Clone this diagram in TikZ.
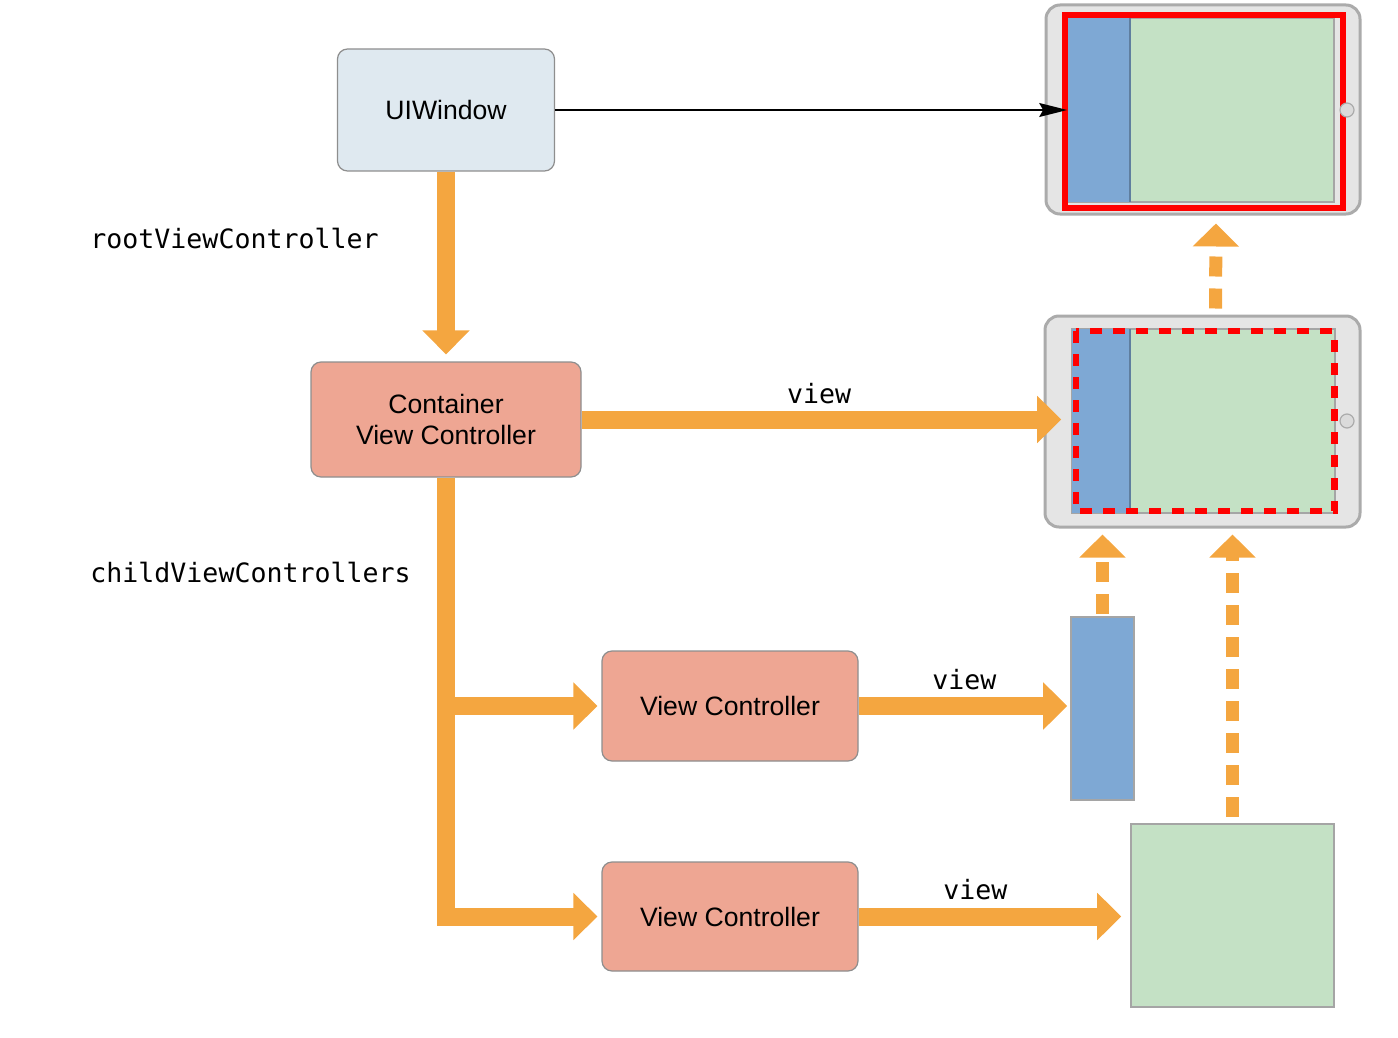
\documentclass[tikz,border=0pt]{standalone}
\usepackage{xcolor}
\usepackage{fontspec}
\setmainfont{Liberation Sans}
\setmonofont{DejaVu Sans Mono}
\usepackage{tikz}
\usetikzlibrary{arrows.meta, calc}
\definecolor{winfill}{HTML}{DFE9F0}
\definecolor{vcfill}{HTML}{EEA693}
\definecolor{vcorange}{HTML}{F4A640}
\definecolor{viewblue}{HTML}{7EA8D4}
\definecolor{viewgreen}{HTML}{C4E1C5}
\definecolor{padgray}{HTML}{E5E5E5}
\definecolor{padedge}{HTML}{ABABAB}
\definecolor{edgegray}{HTML}{8E8E8E}
\newcommand*{\homebutton}[1]{%
  \draw[padedge, fill=padgray!90!gray, line width=0.6pt] #1 circle (3.5pt);%
}

\begin{document}
\begin{tikzpicture}[x=0.5pt, y=-0.5pt,
  box/.style={draw=edgegray, line width=0.6pt, rounded corners=5pt, inner sep=0pt,
    font=\fontsize{13.3}{15.5}\selectfont, align=center},
  pad/.style={draw=padedge, fill=padgray, line width=1.5pt, rounded corners=7pt, inner sep=0pt},
  flat/.style={draw=edgegray!80, line width=0.8pt, inner sep=0pt},
  fat/.style={vcorange, line width=9pt, -{Triangle[width=23pt, length=12pt]}},
  link/.style={vcorange, line width=6.5pt, dash pattern=on 10pt off 6pt,
    -{Triangle[width=22.5pt, length=11.5pt]}},
  lbl/.style={text=black, font=\ttfamily\fontsize{13.3}{16}\selectfont, inner sep=0pt}
]

\useasboundingbox (0,0) rectangle (1398,1038);

\node[box, fill=winfill, minimum width=108.5pt, minimum height=61pt] (win) at (446,110) {UIWindow};
\node[box, fill=vcfill, minimum width=135pt, minimum height=57.5pt] (cvc) at (446,419.5) {Container\\View Controller};
\node[box, fill=vcfill, minimum width=128pt, minimum height=55pt] (vcA) at (730,706) {View Controller};
\node[box, fill=vcfill, minimum width=128pt, minimum height=54.5pt] (vcB) at (730,916.5) {View Controller};

\node[lbl, anchor=base west] (rootLbl) at (90,248) {rootViewController};
\node[lbl, anchor=base west] (childLbl) at (90,582) {childViewControllers};

% top device
\node[pad, minimum width=157pt, minimum height=104.5pt] (padTop) at (1203,109.5) {};
\node[flat, fill=viewgreen, minimum width=133pt, minimum height=92pt] (scrTop) at (1201,110) {};
\fill[viewblue] (1068,18) rectangle (1130,202);
\draw[viewblue!75!black, line width=0.8pt] (1130,18) -- (1130,202);
\draw[red, line width=3.4pt] (1065,15) rectangle (1343,208);
\homebutton{(1347,110)}

% middle device
\node[pad, minimum width=157.5pt, minimum height=105.5pt] (padMid) at (1202.5,421.5) {};
\node[flat, fill=viewgreen, minimum width=131.5pt, minimum height=92pt] (scrMid) at (1203.5,421) {};
\fill[viewblue] (1072,329) rectangle (1130,513);
\draw[viewblue!75!black, line width=0.8pt] (1130,329) -- (1130,513);
\draw[red, line width=3.2pt, dash pattern=on 6pt off 5.5pt] (1076,331) rectangle (1334.5,511);
\homebutton{(1347,421)}

% child views
\node[flat, fill=viewblue, minimum width=31.5pt, minimum height=91.5pt] (blueView) at (1102.5,708.5) {};
\node[flat, fill=viewgreen, minimum width=101.5pt, minimum height=91.5pt] (greenView) at (1232.5,915.5) {};

\draw[line width=0.8pt, -{Stealth[length=14pt, width=7pt, inset=2pt]}] (win.east) -- (scrTop.west);

\draw[fat, shorten >=3.5pt] (win.south) -- (cvc.north);
\draw[fat, shorten >=5pt] (cvc.east) -- (cvc.east -| scrMid.west) node[pos=0.485, above=3.5pt, lbl] (viewLblC) {view};
\draw[fat, shorten >=2pt] (cvc.south) |- (vcB.west);
\draw[fat, shorten >=2pt] (cvc.south |- vcA.west) -- (vcA.west);
\draw[fat, shorten >=1.5pt] (vcA.east) -- (vcA.east -| blueView.west) node[midway, above=3.5pt, lbl] (viewLblA) {view};
\draw[fat, shorten >=4.5pt] (vcB.east) -- (vcB.east -| greenView.west) node[pos=0.43, above=4pt, lbl] (viewLblB) {view};

\draw[link, shorten <=1pt, shorten >=3pt] (blueView.north) -- (blueView.north |- padMid.south);
\draw[link, shorten <=3pt, shorten >=3pt] (greenView.north) -- (greenView.north |- padMid.south);
\draw[link, shorten <=3pt, shorten >=4pt] ([xshift=6.5pt]padMid.north) -- ([xshift=6.5pt]padTop.south);

\end{tikzpicture}
\end{document}
